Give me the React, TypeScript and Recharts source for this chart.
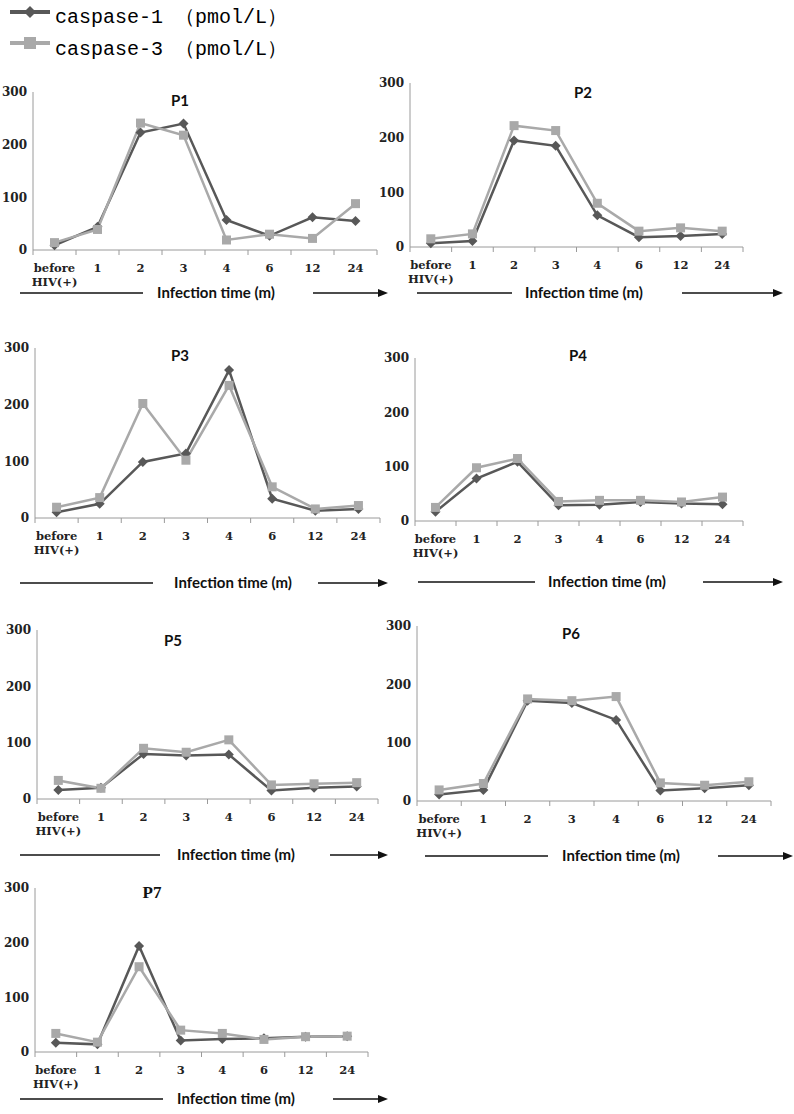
import { LineChart, Line, XAxis, YAxis } from "recharts";

const categories = ["before", "1", "2", "3", "4", "6", "12", "24"];
const seriesNames = ["caspase-1 （pmol/L）", "caspase-3 （pmol/L）"];
const yTicks = [0, 100, 200, 300];
const axisTitle = "Infection time (m)";

// caspase-1 / caspase-3 per patient
const p1Casp1 = [9, 44, 223, 240, 57, 27, 62, 55];
const p1Casp3 = [14, 39, 241, 218, 19, 30, 22, 88];
const p2Casp1 = [7, 11, 195, 185, 58, 18, 20, 24];
const p2Casp3 = [15, 24, 222, 213, 80, 29, 35, 29];
const p3Casp1 = [10, 25, 99, 114, 261, 34, 13, 16];
const p3Casp3 = [19, 36, 202, 102, 234, 55, 16, 22];
const p4Casp1 = [17, 78, 109, 29, 30, 35, 32, 31];
const p4Casp3 = [25, 98, 115, 36, 38, 38, 35, 44];
const p5Casp1 = [16, 20, 80, 77, 79, 15, 20, 22];
const p5Casp3 = [33, 19, 90, 83, 105, 25, 27, 29];
const p6Casp1 = [11, 19, 172, 168, 139, 18, 22, 27];
const p6Casp3 = [19, 30, 175, 172, 179, 31, 27, 33];
const p7Casp1 = [17, 14, 194, 21, 24, 25, 28, 29];
const p7Casp3 = [34, 18, 156, 40, 34, 23, 28, 29];

const DARK = "#585858";
const LIGHT = "#a9a9a9";
const AXIS = "#9a9a9a";
const TICK_FONT = "'DejaVu Serif', serif";
const SANS = "Lato, 'Open Sans', sans-serif";

// layout of each panel in page pixels
const panels = [
  { title: "P1", c1: p1Casp1, c3: p1Casp3, x0: 33, x1: 377, yTop: 92, yBot: 250, tx: 180, ty: 106, ax: 216, ay: 293, l1: [20, 143], l2: [313, 388] },
  { title: "P2", c1: p2Casp1, c3: p2Casp3, x0: 410, x1: 743, yTop: 83, yBot: 247, tx: 583, ty: 98, ax: 584, ay: 293, l1: [417, 512], l2: [682, 783] },
  { title: "P3", c1: p3Casp1, c3: p3Casp3, x0: 35, x1: 380, yTop: 348, yBot: 518, tx: 180, ty: 361, ax: 233, ay: 583, l1: [20, 153], l2: [318, 388] },
  { title: "P4", c1: p4Casp1, c3: p4Casp3, x0: 415, x1: 743, yTop: 358, yBot: 521, tx: 578, ty: 361, ax: 607, ay: 582, l1: [418, 535], l2: [703, 783] },
  { title: "P5", c1: p5Casp1, c3: p5Casp3, x0: 37, x1: 378, yTop: 630, yBot: 799, tx: 173, ty: 646, ax: 236, ay: 855, l1: [20, 160], l2: [330, 388] },
  { title: "P6", c1: p6Casp1, c3: p6Casp3, x0: 417, x1: 771, yTop: 626, yBot: 801, tx: 571, ty: 639, ax: 621, ay: 856, l1: [425, 548], l2: [718, 793] },
  { title: "P7", c1: p7Casp1, c3: p7Casp3, x0: 35, x1: 368, yTop: 888, yBot: 1052, tx: 152, ty: 898, ax: 236, ay: 1099, l1: [20, 163], l2: [333, 388], serif: true },
];

const xTicks = categories.flatMap((_, i) => [i - 0.5, i]).concat(categories.length - 0.5);

const Diamond = (props: any) => {
  const { cx, cy } = props;
  if (cx == null || cy == null) return null;
  return (
    <polygon
      points={`${cx},${cy - 5} ${cx + 5},${cy} ${cx},${cy + 5} ${cx - 5},${cy}`}
      fill={DARK}
    />
  );
};

const Square = (props: any) => {
  const { cx, cy } = props;
  if (cx == null || cy == null) return null;
  return <rect x={cx - 4.5} y={cy - 4.5} width={9} height={9} fill={LIGHT} />;
};

const CatTick = (props: any) => {
  const { x, y, payload } = props;
  const v = payload.value;
  if (!Number.isInteger(v)) {
    return <line x1={x} x2={x} y1={y} y2={y + 5} stroke={AXIS} strokeWidth={1} />;
  }
  return (
    <g fontFamily={TICK_FONT} fontWeight="bold" fontSize={11.5} fill="#222">
      <text x={x} y={y + 22} textAnchor="middle">
        {categories[v]}
      </text>
      {v === 0 && (
        <text x={x} y={y + 36} textAnchor="middle">
          HIV(+)
        </text>
      )}
    </g>
  );
};

const Panel = ({ cfg }: { cfg: any }) => {
  const data = categories.map((t, i) => ({ i, t, c1: cfg.c1[i], c3: cfg.c3[i] }));
  const YW = 40;
  const W = cfg.x1 - cfg.x0 + YW + 6;
  const H = cfg.yBot - cfg.yTop + 10 + 45;
  return (
    <div style={{ position: "absolute", left: cfg.x0 - YW, top: cfg.yTop - 10, width: W, height: H }}>
      <LineChart width={W} height={H} data={data} margin={{ top: 10, right: 6, left: 0, bottom: 0 }}>
        <XAxis
          type="number"
          dataKey="i"
          domain={[-0.5, categories.length - 0.5]}
          ticks={xTicks}
          interval={0}
          tickLine={false}
          tickSize={0}
          tickMargin={0}
          height={45}
          stroke={AXIS}
          tick={<CatTick />}
        />
        <YAxis
          width={YW}
          domain={[0, 300]}
          ticks={yTicks}
          interval={0}
          tickLine={false}
          tickSize={0}
          tickMargin={6}
          stroke={AXIS}
          tick={{ fontFamily: TICK_FONT, fontWeight: "bold", fontSize: 12, fill: "#222" }}
        />
        <Line
          type="linear"
          dataKey="c1"
          name={seriesNames[0]}
          stroke={DARK}
          strokeWidth={2.5}
          dot={<Diamond />}
          isAnimationActive={false}
        />
        <Line
          type="linear"
          dataKey="c3"
          name={seriesNames[1]}
          stroke={LIGHT}
          strokeWidth={2.5}
          dot={<Square />}
          isAnimationActive={false}
        />
      </LineChart>
    </div>
  );
};

export default function App() {
  return (
    <div style={{ position: "absolute", left: 0, top: 0, width: 794, height: 1114, background: "#fff" }}>
      {panels.map((p) => (
        <Panel key={p.title} cfg={p} />
      ))}
      <svg width={794} height={1114} style={{ position: "absolute", left: 0, top: 0, pointerEvents: "none" }}>
        {/* legend */}
        <line x1={10} x2={50} y1={12} y2={12} stroke={DARK} strokeWidth={4} />
        <polygon points="30,6 36,12 30,18 24,12" fill={DARK} />
        <text x={55} y={23} fontFamily="'Liberation Mono', monospace" fontSize={20} fill="#000">
          {seriesNames[0]}
        </text>
        <line x1={10} x2={50} y1={43} y2={43} stroke={LIGHT} strokeWidth={4} />
        <rect x={24} y={37} width={12} height={12} fill={LIGHT} />
        <text x={55} y={55} fontFamily="'Liberation Mono', monospace" fontSize={20} fill="#000">
          {seriesNames[1]}
        </text>
        {panels.map((p) => (
          <g key={p.title}>
            <text
              x={p.tx}
              y={p.ty}
              textAnchor="middle"
              fontFamily={p.serif ? "'Liberation Serif', serif" : SANS}
              fontWeight="bold"
              fontSize={p.serif ? 17 : 15}
              fill="#111"
            >
              {p.title}
            </text>
            <text x={p.ax} y={p.ay + 5} textAnchor="middle" fontFamily={SANS} fontWeight="bold" fontSize={15} fill="#111">
              {axisTitle}
            </text>
            <line x1={p.l1[0]} x2={p.l1[1]} y1={p.ay} y2={p.ay} stroke="#111" strokeWidth={1.3} />
            <line x1={p.l2[0]} x2={p.l2[1] - 8} y1={p.ay} y2={p.ay} stroke="#111" strokeWidth={1.3} />
            <polygon
              points={`${p.l2[1]},${p.ay} ${p.l2[1] - 10},${p.ay - 4} ${p.l2[1] - 10},${p.ay + 4}`}
              fill="#111"
            />
          </g>
        ))}
      </svg>
    </div>
  );
}
